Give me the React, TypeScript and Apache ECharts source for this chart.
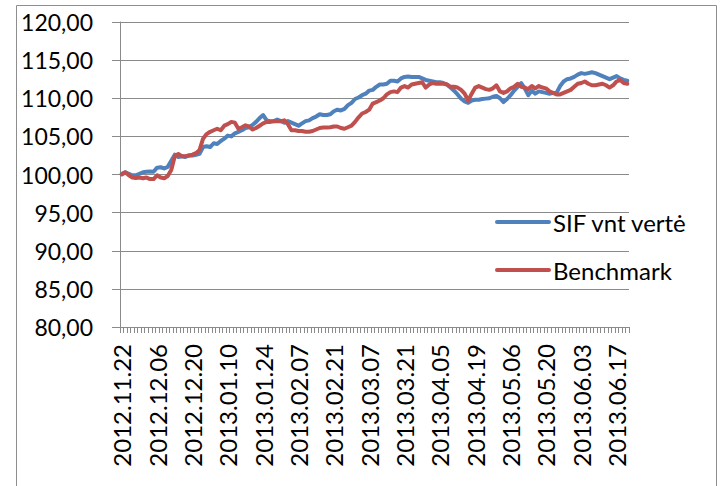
import React, { useEffect, useRef } from "react";
import * as echarts from "echarts";

const categories: string[] = [
  "2012.11.22", "2012.11.23", "2012.11.26", "2012.11.27", "2012.11.28", "2012.11.29", "2012.11.30", "2012.12.03", "2012.12.04", "2012.12.05",
  "2012.12.06", "2012.12.07", "2012.12.10", "2012.12.11", "2012.12.12", "2012.12.13", "2012.12.14", "2012.12.17", "2012.12.18", "2012.12.19",
  "2012.12.20", "2012.12.21", "2012.12.27", "2012.12.28", "2013.01.02", "2013.01.03", "2013.01.04", "2013.01.07", "2013.01.08", "2013.01.09",
  "2013.01.10", "2013.01.11", "2013.01.14", "2013.01.15", "2013.01.16", "2013.01.17", "2013.01.18", "2013.01.21", "2013.01.22", "2013.01.23",
  "2013.01.24", "2013.01.25", "2013.01.28", "2013.01.29", "2013.01.30", "2013.01.31", "2013.02.01", "2013.02.04", "2013.02.05", "2013.02.06",
  "2013.02.07", "2013.02.08", "2013.02.11", "2013.02.12", "2013.02.13", "2013.02.14", "2013.02.15", "2013.02.18", "2013.02.19", "2013.02.20",
  "2013.02.21", "2013.02.22", "2013.02.25", "2013.02.26", "2013.02.27", "2013.02.28", "2013.03.01", "2013.03.04", "2013.03.05", "2013.03.06",
  "2013.03.07", "2013.03.08", "2013.03.11", "2013.03.12", "2013.03.13", "2013.03.14", "2013.03.15", "2013.03.18", "2013.03.19", "2013.03.20",
  "2013.03.21", "2013.03.22", "2013.03.25", "2013.03.26", "2013.03.27", "2013.03.28", "2013.03.29", "2013.04.02", "2013.04.03", "2013.04.04",
  "2013.04.05", "2013.04.08", "2013.04.09", "2013.04.10", "2013.04.11", "2013.04.12", "2013.04.15", "2013.04.16", "2013.04.17", "2013.04.18",
  "2013.04.19", "2013.04.22", "2013.04.23", "2013.04.24", "2013.04.25", "2013.04.26", "2013.04.29", "2013.04.30", "2013.05.02", "2013.05.03",
  "2013.05.06", "2013.05.07", "2013.05.08", "2013.05.09", "2013.05.10", "2013.05.13", "2013.05.14", "2013.05.15", "2013.05.16", "2013.05.17",
  "2013.05.20", "2013.05.21", "2013.05.22", "2013.05.23", "2013.05.24", "2013.05.27", "2013.05.28", "2013.05.29", "2013.05.30", "2013.05.31",
  "2013.06.03", "2013.06.04", "2013.06.05", "2013.06.06", "2013.06.07", "2013.06.10", "2013.06.11", "2013.06.12", "2013.06.13", "2013.06.14",
  "2013.06.17", "2013.06.18", "2013.06.19", "2013.06.20",
];

const sifValues: number[] = [
  100.1, 100.3, 100.1, 99.9, 99.9, 100.1, 100.3, 100.35, 100.4, 100.35,
  100.9, 100.95, 100.8, 101.0, 101.8, 102.6, 102.3, 102.4, 102.3, 102.5,
  102.5, 102.6, 102.7, 103.6, 103.7, 103.6, 104.1, 104.0, 104.4, 104.7,
  105.1, 105.0, 105.4, 105.6, 105.8, 106.1, 106.2, 106.5, 106.9, 107.4,
  107.8, 107.1, 107.0, 107.0, 107.2, 107.0, 106.8, 107.0, 106.8, 106.6,
  106.4, 106.7, 107.0, 107.1, 107.4, 107.6, 107.9, 107.8, 107.8, 107.9,
  108.3, 108.5, 108.4, 108.6, 109.1, 109.4, 109.9, 110.1, 110.4, 110.6,
  111.0, 111.1, 111.5, 111.8, 111.8, 111.9, 112.3, 112.3, 112.2, 112.6,
  112.8, 112.85, 112.8, 112.8, 112.8, 112.6, 112.4, 112.3, 112.2, 112.1,
  112.1, 112.0, 111.8, 111.4, 111.0, 110.5, 109.95, 109.6, 109.4, 109.7,
  109.8, 109.8, 109.9, 109.95, 110.0, 110.2, 110.3, 110.0, 109.5, 109.9,
  110.4, 111.0, 111.5, 112.0, 111.3, 110.4, 111.0, 110.6, 110.9, 110.8,
  110.7, 110.6, 110.7, 110.7, 111.6, 112.2, 112.5, 112.6, 112.8, 113.1,
  113.3, 113.2, 113.3, 113.4, 113.3, 113.1, 112.9, 112.7, 112.5, 112.7,
  112.9, 112.6, 112.4, 112.3,
];

const benchmarkValues: number[] = [
  100.0, 100.3, 99.9, 99.6, 99.55, 99.6, 99.5, 99.6, 99.4, 99.4,
  99.9, 99.6, 99.5, 99.8, 100.6, 102.4, 102.7, 102.4, 102.4, 102.5,
  102.6, 102.8, 103.2, 104.7, 105.3, 105.6, 105.8, 106.0, 105.8, 106.4,
  106.6, 106.9, 106.8, 106.0, 106.2, 106.45, 106.3, 105.9, 106.1, 106.4,
  106.7, 106.9, 106.9, 107.0, 107.0, 107.0, 107.1, 106.6, 105.8, 105.8,
  105.7, 105.7, 105.6, 105.6, 105.7, 105.9, 106.1, 106.15, 106.15, 106.2,
  106.3, 106.3, 106.1, 106.0, 106.2, 106.4, 106.9, 107.5, 108.0, 108.2,
  108.5, 109.3, 109.5, 109.7, 110.0, 110.5, 110.8, 110.9, 110.8, 111.4,
  111.6, 111.4, 111.8, 111.9, 112.0, 112.1, 111.4, 111.8, 112.0, 111.9,
  111.9, 111.9, 111.8, 111.5, 111.5, 111.4, 111.1, 110.6, 109.7, 110.6,
  111.4, 111.6, 111.4, 111.2, 111.1, 111.3, 111.7, 110.9, 110.7, 110.9,
  111.3, 111.5, 111.9, 111.5, 111.4, 111.2, 111.6, 111.3, 111.6, 111.4,
  111.3, 110.9, 110.7, 110.5, 110.5, 110.7, 110.9, 111.1, 111.5, 111.9,
  112.0, 112.2, 111.9, 111.7, 111.7, 111.8, 111.9, 111.7, 111.4, 111.7,
  112.2, 112.4, 112.0, 111.9,
];

const seriesNames = ["SIF vnt vertė", "Benchmark"];
const yMin = 80;
const yMax = 120;
const yStep = 5;

const FONT = "Lato";
const BAR_ICON = "path://M2,0 L54,0 A2,2 0 0 1 54,4 L2,4 A2,2 0 0 1 2,0 Z";

export default function App() {
  const ref = useRef<HTMLDivElement>(null);
  useEffect(() => {
    if (!ref.current) return;
    const chart = echarts.init(ref.current, null, { renderer: "svg" });
    chart.setOption({
      animation: false,
      backgroundColor: "#ffffff",
      graphic: [
        {
          type: "rect",
          shape: { x: 16.5, y: 5.5, width: 700, height: 495 },
          style: { fill: "none", stroke: "#8e8e8e", lineWidth: 1 },
          silent: true,
        },
      ],
      grid: { left: 120, top: 22, right: 94, bottom: 159, containLabel: false },
      legend: {
        orient: "vertical",
        left: 495,
        top: 210,
        itemWidth: 56,
        itemHeight: 4,
        itemGap: 24,
        padding: 0,
        data: [
          { name: seriesNames[0], icon: BAR_ICON },
          { name: seriesNames[1], icon: BAR_ICON },
        ],
        textStyle: { fontFamily: FONT, fontSize: 24, color: "#000", padding: [0, 0, 0, -3] },
      },
      xAxis: {
        type: "category",
        data: categories,
        boundaryGap: true,
        axisLine: { show: true, lineStyle: { color: "#8a8a8a", width: 1 } },
        axisTick: { show: true, interval: 0, length: 6, lineStyle: { color: "#8a8a8a" } },
        axisLabel: {
          interval: 9,
          rotate: 90,
          margin: 17,
          fontFamily: FONT,
          fontSize: 24,
          color: "#000",
        },
        splitLine: { show: false },
      },
      yAxis: {
        type: "value",
        min: yMin,
        max: yMax,
        interval: yStep,
        axisLine: { show: true, lineStyle: { color: "#8a8a8a", width: 1 } },
        axisTick: { show: true, length: 8, lineStyle: { color: "#8a8a8a" } },
        axisLabel: {
          margin: 27,
          fontFamily: FONT,
          fontSize: 23,
          color: "#000",
          formatter: (v: number) => v.toFixed(2).replace(".", ","),
        },
        splitLine: { show: true, lineStyle: { color: "#8a8a8a", width: 1 } },
      },
      series: [
        {
          name: seriesNames[0],
          type: "line",
          data: sifValues,
          showSymbol: false,
          symbol: "none",
          lineStyle: { color: "#4F81BD", width: 4, cap: "round", join: "round" },
          itemStyle: { color: "#4F81BD" },
        },
        {
          name: seriesNames[1],
          type: "line",
          data: benchmarkValues,
          showSymbol: false,
          symbol: "none",
          lineStyle: { color: "#C0504D", width: 4, cap: "round", join: "round" },
          itemStyle: { color: "#C0504D" },
        },
      ],
    });
    return () => chart.dispose();
  }, []);
  return (
    <div
      ref={ref}
      style={{ position: "absolute", left: 0, top: 0, width: 723, height: 486 }}
    />
  );
}
